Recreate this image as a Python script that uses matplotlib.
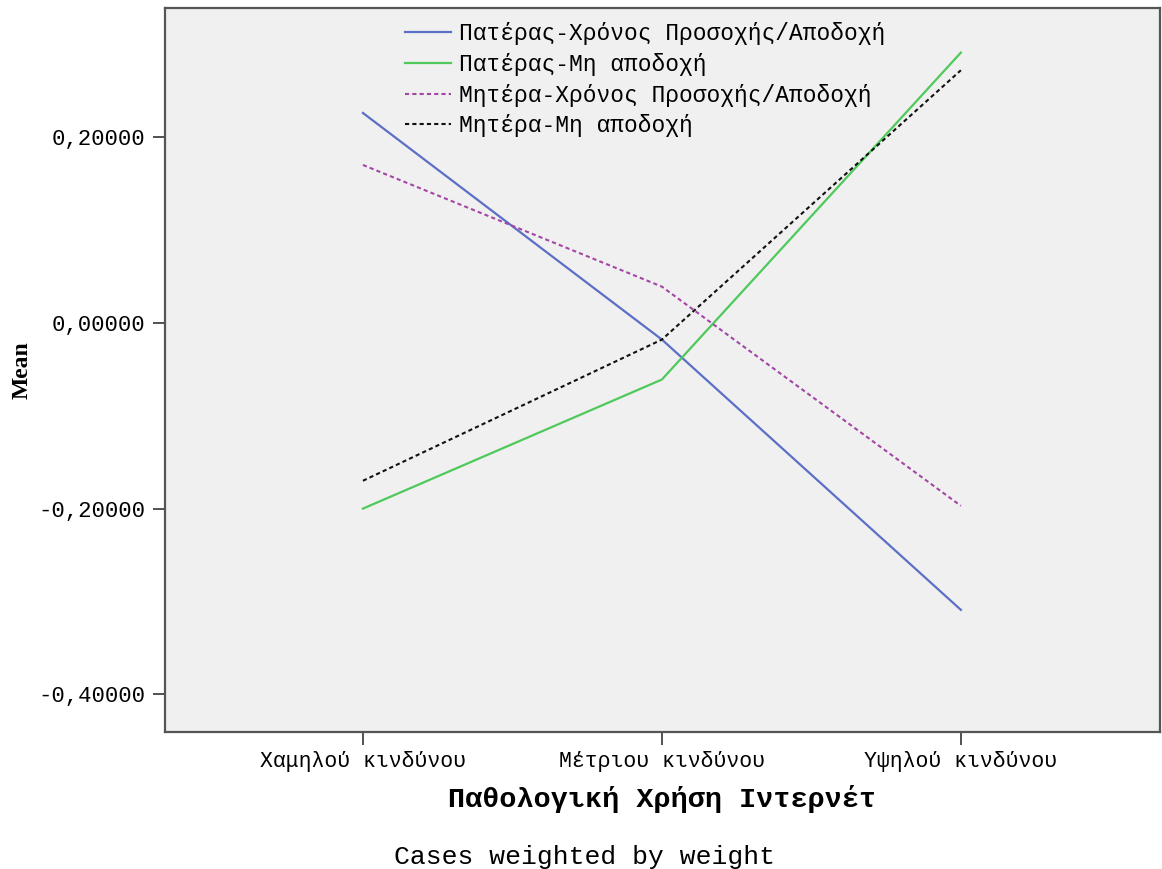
import matplotlib
matplotlib.use("Agg")
import matplotlib.pyplot as plt

# risk groups on the x axis
categories = ["Χαμηλού κινδύνου", "Μέτριου κινδύνου", "Υψηλού κινδύνου"]

# means
father_time = [0.226, -0.018, -0.309]
father_reject = [-0.200, -0.061, 0.291]
mother_time = [0.170, 0.039, -0.197]
mother_reject = [-0.170, -0.018, 0.272]

yticks = [0.2, 0.0, -0.2, -0.4]
ytick_labels = ["0,20000", "0,00000", "-0,20000", "-0,40000"]

plt.rcParams["font.family"] = ["Liberation Mono", "DejaVu Sans Mono"]

fig = plt.figure(figsize=(11.62, 8.69), dpi=100)
ax = fig.add_axes([165 / 1162, 137 / 869, 995 / 1162, 724 / 869])
ax.set_facecolor("#f0f0f0")

x = list(range(len(categories)))
ax.plot(x, father_time, color="#5b6fc6", lw=1.6, label="Πατέρας-Χρόνος Προσοχής/Αποδοχή")
ax.plot(x, father_reject, color="#4fc95b", lw=1.6, label="Πατέρας-Μη αποδοχή")
ax.plot(x, mother_time, color="#a446a6", lw=1.5, ls=(0, (2, 1.5)),
        label="Μητέρα-Χρόνος Προσοχής/Αποδοχή")
ax.plot(x, mother_reject, color="#111111", lw=1.5, ls=(0, (2, 1.5)),
        label="Μητέρα-Μη αποδοχή")

ax.set_xlim(-0.662, 2.666)
ax.set_ylim(-0.4405, 0.339)
ax.set_xticks(x)
ax.set_xticklabels(categories, fontsize=15.5)
ax.set_yticks(yticks)
ax.set_yticklabels(ytick_labels, fontsize=16)
ax.tick_params(direction="out", length=9, width=1.2, color="#333333", pad=5)

for s in ax.spines.values():
    s.set_color("#555555")
    s.set_linewidth(1.6)

ax.set_ylabel("Mean", fontsize=17, fontweight="bold", labelpad=4,
              family=["Liberation Serif", "DejaVu Serif"])
ax.set_xlabel("Παθολογική Χρήση Ιντερνέτ", fontsize=20.5, fontweight="bold", labelpad=9)

leg = ax.legend(loc="upper left", bbox_to_anchor=(0.241, 0.980), frameon=False,
                fontsize=16.5, handlelength=2.0, handletextpad=0.35,
                labelspacing=0.33, borderpad=0, borderaxespad=0)

fig.text(585 / 1162, 1 - 857 / 869, "Cases weighted by weight", fontsize=19,
         ha="center", va="center")

fig.savefig("out.png", dpi=100, facecolor="white")
